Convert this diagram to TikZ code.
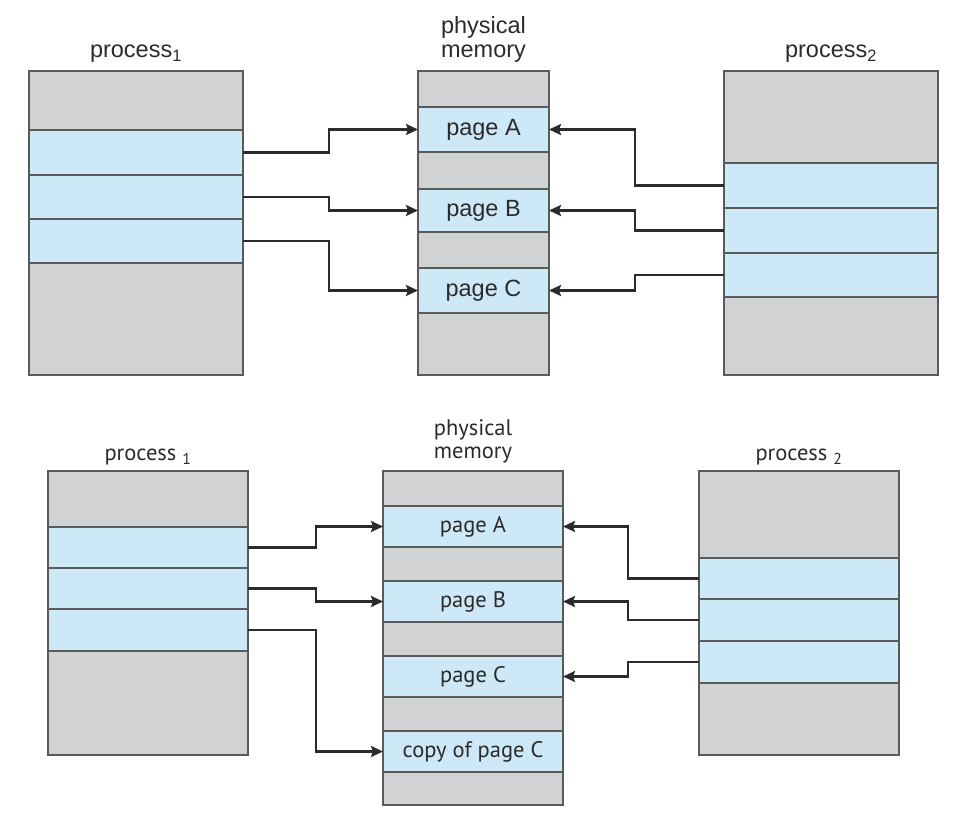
\documentclass[tikz,border=0pt]{standalone}
\usepackage{fontspec}
\usetikzlibrary{arrows.meta}
\newfontfamily\helv{Liberation Sans}
\newfontfamily\hum{PT Sans}
\definecolor{memgray}{HTML}{D1D2D4}
\definecolor{memblue}{HTML}{CDE8F6}
\definecolor{edgecol}{HTML}{5A5A5A}
\definecolor{ink}{HTML}{2B2B2B}

\tikzset{
  seg/.style={draw=edgecol, line width=1.5pt, inner sep=0pt, outer sep=0pt,
    anchor=north west, text=ink},
  freeseg/.style={seg, fill=memgray},
  pageseg/.style={seg, fill=memblue},
  link/.style={draw=ink, line width=2.3pt, line join=miter,
    -{Stealth[length=12pt,width=11pt,inset=2pt]}},
  caption/.style={text=ink, anchor=base, inner sep=0pt},
}

% one memory segment: name, x, top, bottom, width, style, text
\newcommand\memseg[7]{%
  \node[#6, minimum width=#5pt, minimum height={#4pt-#3pt}] (#1) at (#2,#3) {#7};}

\begin{document}
\begin{tikzpicture}[x=1pt,y=-1pt]
\useasboundingbox (0,0) rectangle (972,826);

% ---------- before process 1 writes to page C ----------
\begin{scope}[every node/.append style={font=\helv\fontsize{23.5}{25}\selectfont}]
  % process 1
  \memseg{ta0}{29}{71}{130}{214}{freeseg}{}
  \memseg{ta1}{29}{130}{175}{214}{pageseg}{}
  \memseg{ta2}{29}{175}{219}{214}{pageseg}{}
  \memseg{ta3}{29}{219}{263}{214}{pageseg}{}
  \memseg{ta4}{29}{263}{375}{214}{freeseg}{}
  % physical memory
  \memseg{tm0}{418}{71}{107}{131}{freeseg}{}
  \memseg{tmA}{418}{107}{152}{131}{pageseg}{page A}
  \memseg{tm1}{418}{152}{189}{131}{freeseg}{}
  \memseg{tmB}{418}{189}{232}{131}{pageseg}{page B}
  \memseg{tm2}{418}{232}{268}{131}{freeseg}{}
  \memseg{tmC}{418}{268}{313}{131}{pageseg}{page C}
  \memseg{tm3}{418}{313}{375}{131}{freeseg}{}
  % process 2
  \memseg{tb0}{724}{71}{163}{214}{freeseg}{}
  \memseg{tb1}{724}{163}{208}{214}{pageseg}{}
  \memseg{tb2}{724}{208}{253}{214}{pageseg}{}
  \memseg{tb3}{724}{253}{297}{214}{pageseg}{}
  \memseg{tb4}{724}{297}{375}{214}{freeseg}{}
  % captions
  \node[caption] (tcap1) at (136,58) {process\textsubscript{1}};
  \node[caption, align=center] (tcapm) at (483.5,58) {physical\\[-1pt]memory};
  \node[caption] (tcap2) at (831,58) {process\textsubscript{2}};
\end{scope}

\coordinate (tl) at (329,0);
\coordinate (tr) at (635,0);
\draw[link] (ta1.east) -- (ta1.east -| tl) |- (tmA.west);
\draw[link] (ta2.east) -- (ta2.east -| tl) |- (tmB.west);
\draw[link] (ta3.east) -- (ta3.east -| tl) |- (tmC.west);
\draw[link] (tb1.west) -- (tb1.west -| tr) |- (tmA.east);
\draw[link] (tb2.west) -- (tb2.west -| tr) |- (tmB.east);
\draw[link] (tb3.west) -- (tb3.west -| tr) |- (tmC.east);

% ---------- after process 1 writes to page C ----------
\begin{scope}[every node/.append style={font=\hum\fontsize{22.5}{24}\selectfont}]
  % process 1
  \memseg{ba0}{48}{471}{527}{200}{freeseg}{}
  \memseg{ba1}{48}{527}{568}{200}{pageseg}{}
  \memseg{ba2}{48}{568}{609}{200}{pageseg}{}
  \memseg{ba3}{48}{609}{651}{200}{pageseg}{}
  \memseg{ba4}{48}{651}{755}{200}{freeseg}{}
  % physical memory
  \memseg{bm0}{383}{471}{506}{180}{freeseg}{}
  \memseg{bmA}{383}{506}{547}{180}{pageseg}{page A}
  \memseg{bm1}{383}{547}{581}{180}{freeseg}{}
  \memseg{bmB}{383}{581}{622}{180}{pageseg}{page B}
  \memseg{bm2}{383}{622}{656}{180}{freeseg}{}
  \memseg{bmC}{383}{656}{697}{180}{pageseg}{page C}
  \memseg{bm3}{383}{697}{731}{180}{freeseg}{}
  \memseg{bmD}{383}{731}{772}{180}{pageseg}{copy of page C}
  \memseg{bm4}{383}{772}{805}{180}{freeseg}{}
  % process 2
  \memseg{bb0}{699}{471}{558}{200}{freeseg}{}
  \memseg{bb1}{699}{558}{599}{200}{pageseg}{}
  \memseg{bb2}{699}{599}{641}{200}{pageseg}{}
  \memseg{bb3}{699}{641}{683}{200}{pageseg}{}
  \memseg{bb4}{699}{683}{755}{200}{freeseg}{}
  % captions
  \node[caption] (bcap1) at (148,460) {process \textsubscript{1}};
  \node[caption, align=center] (bcapm) at (473,458) {physical\\[-1pt]memory};
  \node[caption] (bcap2) at (799,460) {process \textsubscript{2}};
\end{scope}

\coordinate (bl) at (316,0);
\coordinate (br) at (628,0);
\draw[link] (ba1.east) -- (ba1.east -| bl) |- (bmA.west);
\draw[link] (ba2.east) -- (ba2.east -| bl) |- (bmB.west);
\draw[link] (ba3.east) -- (ba3.east -| bl) |- (bmD.west);
\draw[link] (bb1.west) -- (bb1.west -| br) |- (bmA.east);
\draw[link] (bb2.west) -- (bb2.west -| br) |- (bmB.east);
\draw[link] (bb3.west) -- (bb3.west -| br) |- (bmC.east);
\end{tikzpicture}
\end{document}
